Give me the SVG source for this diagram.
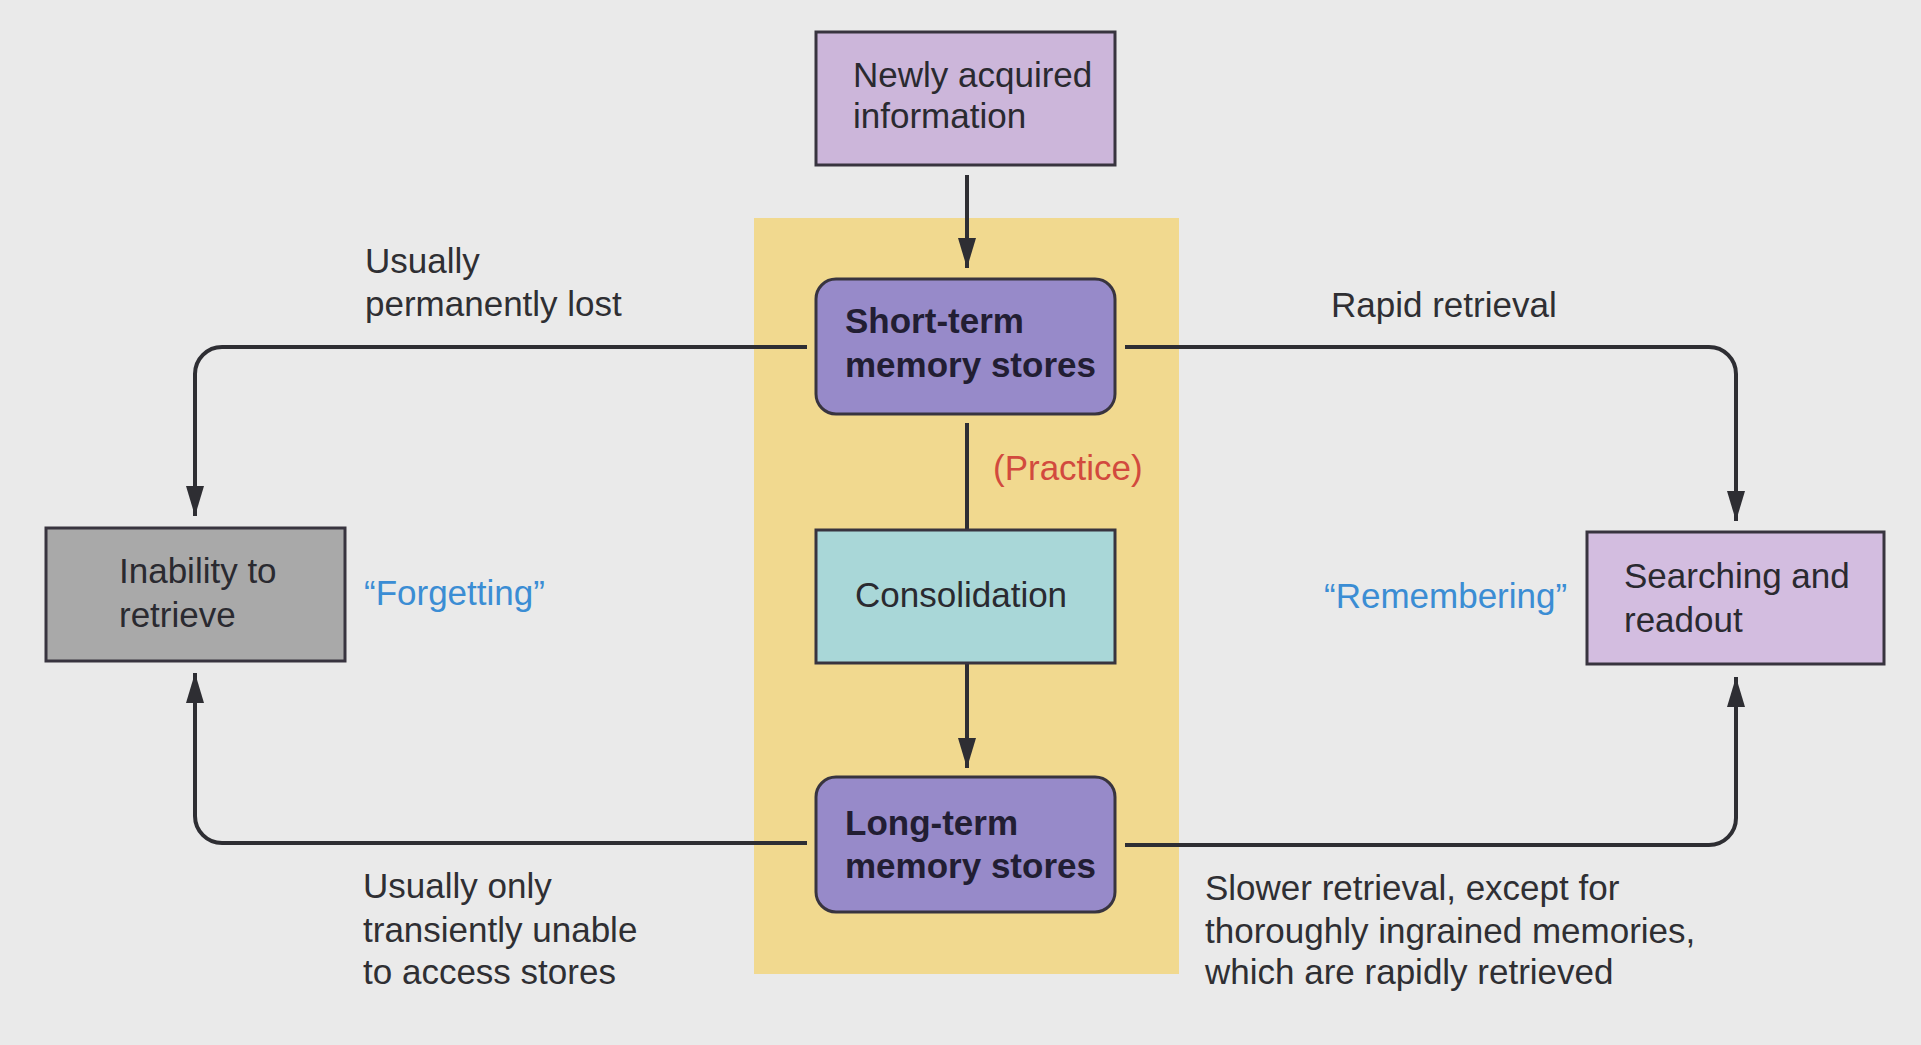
<svg xmlns="http://www.w3.org/2000/svg" width="1921" height="1045" viewBox="0 0 1921 1045">
  <defs>
    <marker id="arrow" markerUnits="userSpaceOnUse" markerWidth="32" markerHeight="20" viewBox="0 0 32 20" refX="30" refY="10" orient="auto">
      <path d="M0,1 L30,10 L0,19 Z" fill="#2e2e33"/>
    </marker>
    <style>
      text { font-family: "Liberation Sans", Arial, Helvetica, sans-serif; font-size: 35px; fill: #2a2a30; }
      .bold { font-weight: bold; fill: #221e33; }
      .box { stroke: #38343f; stroke-width: 3; }
      .conn { fill: none; stroke: #2e2e33; stroke-width: 4; }
      .blue { fill: #3b8dd4; }
      .red { fill: #d24a3e; }
      .label { fill: #2f2f33; }
    </style>
  </defs>

  <rect x="0" y="0" width="1921" height="1045" fill="#eaeaea"/>
  <rect x="754" y="218" width="425" height="756" fill="#f1d98f"/>

  <g id="connectors">
    <line class="conn" x1="967" y1="175" x2="967" y2="268" marker-end="url(#arrow)"/>
    <line class="conn" x1="967" y1="423" x2="967" y2="530"/>
    <line class="conn" x1="967" y1="663" x2="967" y2="768" marker-end="url(#arrow)"/>
    <path class="conn" d="M807,347 H222 A27,27 0 0 0 195,374 V516" marker-end="url(#arrow)"/>
    <path class="conn" d="M807,843 H222 A27,27 0 0 1 195,816 V673" marker-end="url(#arrow)"/>
    <path class="conn" d="M1125,347 H1709 A27,27 0 0 1 1736,374 V521" marker-end="url(#arrow)"/>
    <path class="conn" d="M1125,845 H1709 A27,27 0 0 0 1736,818 V677" marker-end="url(#arrow)"/>
  </g>

  <g id="newly-acquired">
    <rect class="box" x="816" y="32" width="299" height="133" fill="#ccb6da"/>
    <text x="853" y="87">Newly acquired</text>
    <text x="853" y="128">information</text>
  </g>

  <g id="short-term">
    <rect class="box" x="816" y="279" width="299" height="135" rx="20" ry="20" fill="#978ac9"/>
    <text class="bold" x="845" y="333">Short-term</text>
    <text class="bold" x="845" y="377">memory stores</text>
  </g>

  <g id="practice-label">
    <text class="red" x="993" y="480">(Practice)</text>
  </g>

  <g id="consolidation">
    <rect class="box" x="816" y="530" width="299" height="133" fill="#a9d7d8"/>
    <text x="855" y="607">Consolidation</text>
  </g>

  <g id="long-term">
    <rect class="box" x="816" y="777" width="299" height="135" rx="20" ry="20" fill="#978ac9"/>
    <text class="bold" x="845" y="835">Long-term</text>
    <text class="bold" x="845" y="878">memory stores</text>
  </g>

  <g id="inability">
    <rect class="box" x="46" y="528" width="299" height="133" fill="#a9a9a9"/>
    <text x="119" y="583">Inability to</text>
    <text x="119" y="627">retrieve</text>
  </g>

  <g id="searching">
    <rect class="box" x="1587" y="532" width="297" height="132" fill="#d3bde0"/>
    <text x="1624" y="588">Searching and</text>
    <text x="1624" y="632">readout</text>
  </g>

  <g id="labels">
    <text class="label" x="365" y="273">Usually</text>
    <text class="label" x="365" y="316">permanently lost</text>
    <text class="blue" x="364" y="605">“Forgetting”</text>
    <text class="label" x="363" y="898">Usually only</text>
    <text class="label" x="363" y="942">transiently unable</text>
    <text class="label" x="363" y="984">to access stores</text>
    <text class="label" x="1331" y="317">Rapid retrieval</text>
    <text class="blue" x="1324" y="608">“Remembering”</text>
    <text class="label" x="1205" y="900">Slower retrieval, except for</text>
    <text class="label" x="1205" y="943">thoroughly ingrained memories,</text>
    <text class="label" x="1205" y="984">which are rapidly retrieved</text>
  </g>
</svg>
